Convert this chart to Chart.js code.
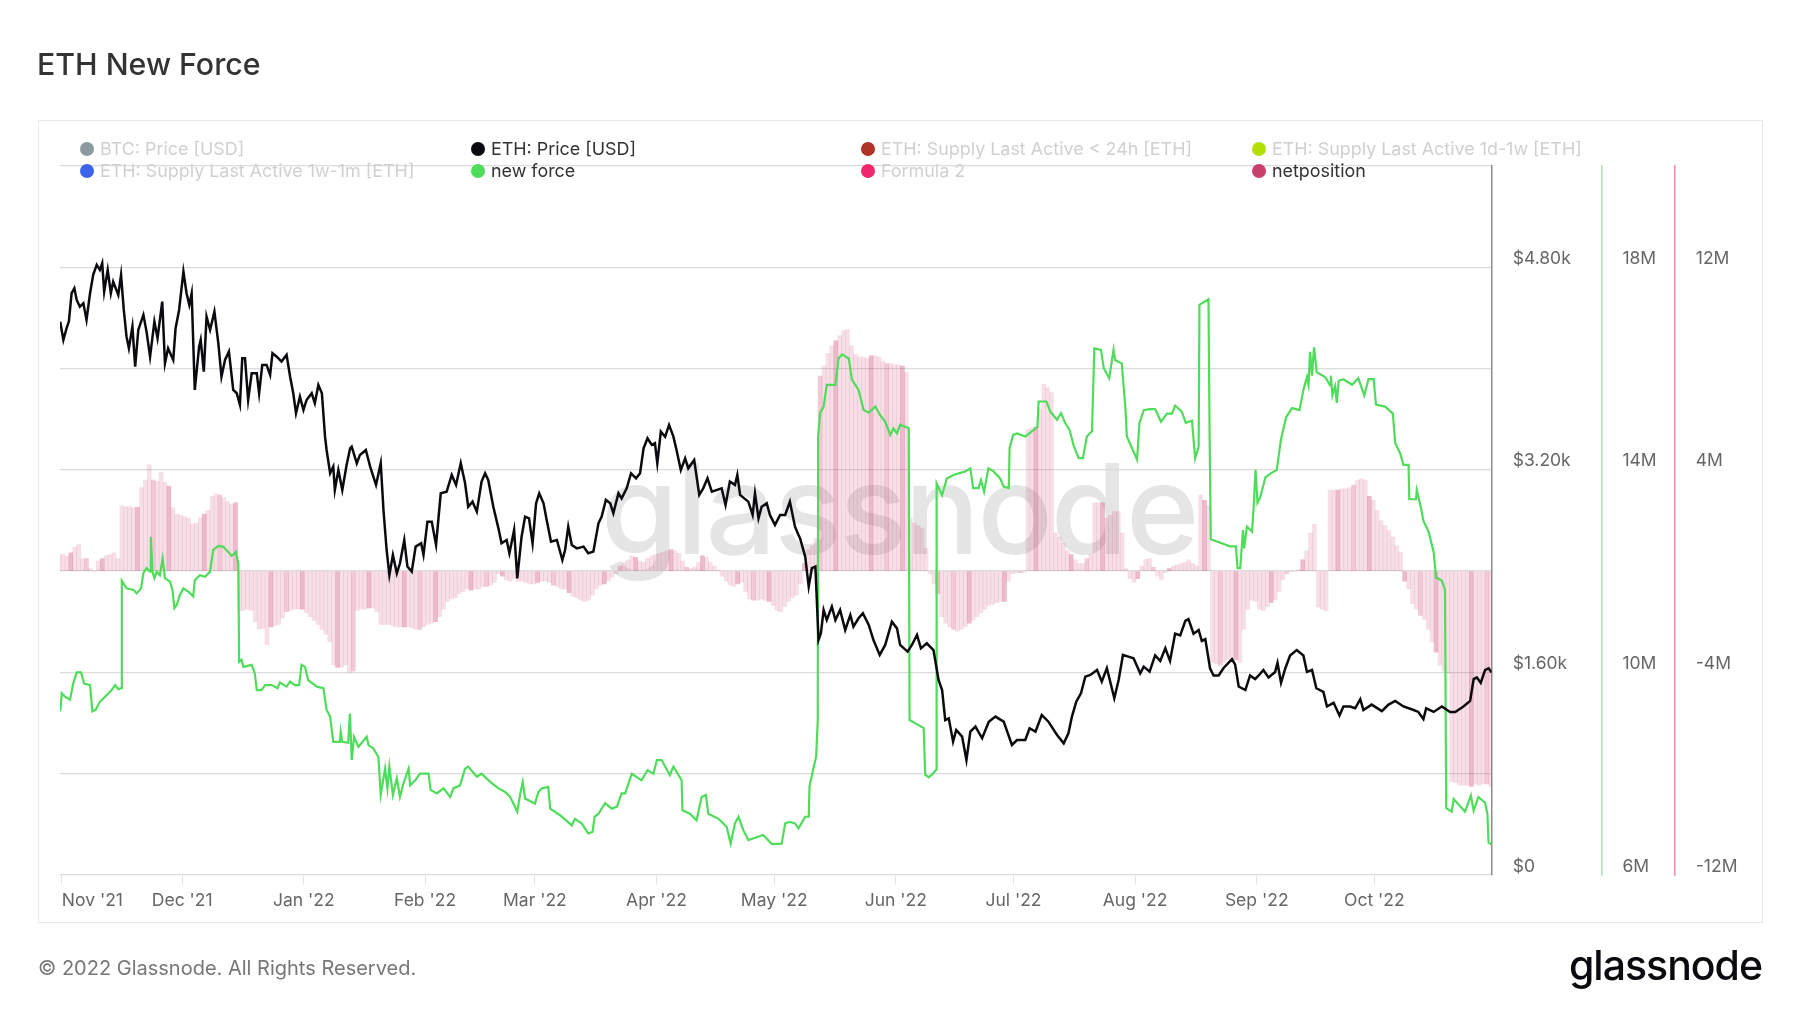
<!DOCTYPE html>
<html>
<head>
<meta charset="utf-8">
<title>ETH New Force</title>
<script src="https://cdn.jsdelivr.net/npm/chart.js@4"></script>
<style>
  html, body { margin: 0; padding: 0; background: #fff; }
  body { width: 1800px; height: 1013px; position: relative; overflow: hidden; font-family: Inter, sans-serif; }
  #title { position: absolute; left: 37px; top: 44px; font-size: 30.3px; font-weight: 500; color: #333; line-height: 40px; }
  #panel { position: absolute; left: 38px; top: 120px; width: 1723px; height: 801px; border: 1.5px solid #e9e9e9; }
  #mark { position: absolute; left: 601px; top: 434px; font-size: 125px; font-weight: 500; line-height: 150px; letter-spacing: -2.2px; color: #e5e5e5; }
  #chartbox { position: absolute; left: 0; top: 0; width: 1800px; height: 1013px; }
  .lg { position: absolute; font-size: 17.9px; line-height: 22px; white-space: nowrap; color: #d0d0d0; }
  .lg.on { color: #333; }
  .lg i { position: absolute; left: -20px; top: 4px; width: 14px; height: 14px; border-radius: 50%; }
  #copy { position: absolute; left: 38px; top: 954px; font-size: 20px; line-height: 28px; color: #777; }
  #logo { position: absolute; right: 38px; top: 935px; font-size: 41px; line-height: 60px; font-weight: 500; letter-spacing: -1px; color: #0b0b0f; }
</style>
</head>
<body>
<div id="panel"></div>
<div id="mark">glassnode</div>
<div id="chartbox"><canvas id="chart" width="1800" height="1013"></canvas></div>
<div id="title">ETH New Force</div>
<div id="legend"></div>
<div id="copy">© 2022 Glassnode. All Rights Reserved.</div>
<div id="logo">glassnode</div>
<script>
// x values are days counted from 1 Nov 2021
const monthDays = [-0.3, 30.4, 61.4, 92.3, 120.3, 151.3, 181.3, 212.3, 242.3, 273.3, 304.3, 334.3];
const monthLabels = ["Nov '21", "Dec '21", "Jan '22", "Feb '22", "Mar '22", "Apr '22", "May '22", "Jun '22", "Jul '22", "Aug '22", "Sep '22", "Oct '22"];
const priceTickLabels = ["$0", "$1.60k", "$3.20k", "$4.80k"];
const forceTickLabels = ["6M", "10M", "14M", "18M"];
const netTickLabels = ["-12M", "-4M", "4M", "12M"];
const legendNames = ["BTC: Price [USD]", "ETH: Price [USD]", "ETH: Supply Last Active < 24h [ETH]", "ETH: Supply Last Active 1d-1w [ETH]", "ETH: Supply Last Active 1w-1m [ETH]", "new force", "Formula 2", "netposition"];
const legendColors = ["#8a9a9e", "#0b0b0f", "#b03328", "#b2e000", "#3d63ea", "#4fdc5a", "#f2286e", "#c93f6b"];
const legendOn = [false, true, false, false, false, true, false, true];

const ethDays = [
  -0.7,0.1,0.9,1.5,2.2,2.9,3.5,4.3,5.2,6.0,6.9,7.7,8.6,9.4,10.0,10.5,11.4,12.2,12.8,14.1,14.8,15.5,16.2,16.8,17.7,18.4,19.2,20.5,21.3,22.2,
  23.3,24.1,25.3,26.0,26.8,28.1,28.7,29.6,30.7,31.5,32.2,32.8,33.6,34.7,35.1,35.9,36.6,37.5,38.6,39.6,40.4,41.3,42.3,43.4,44.3,45.1,45.7,46.4,47.2,48.1,
  49.4,50.0,50.8,51.9,52.8,53.4,54.5,55.7,57.0,57.9,58.7,59.4,60.4,61.3,62.1,63.4,64.2,65.1,66.0,66.8,67.2,68.1,68.9,69.3,70.2,71.2,72.3,73.2,
  73.6,74.9,75.7,77.2,78.3,79.8,81.0,81.7,82.5,83.2,84.1,85.1,85.9,87.0,87.8,88.9,89.9,91.3,91.9,92.9,94.0,95.1,96.3,97.8,99.1,100.2,101.4,102.5,103.3,104.4,105.5,
  106.7,107.6,108.4,109.7,111.0,111.8,113.1,113.8,115.0,115.8,116.9,117.8,118.8,119.7,120.6,121.4,122.5,123.3,124.4,125.9,127.3,128.0,128.8,129.7,131.0,132.7,133.9,135.2,
  136.5,137.3,138.4,139.5,140.3,141.6,142.4,143.7,144.8,146.1,147.1,148.0,149.0,150.1,150.9,151.5,152.4,153.5,154.5,155.6,156.4,157.5,158.6,159.4,160.9,162.2,163.2,164.3,165.4,
  167.9,168.9,170.0,171.3,171.9,172.6,174.7,175.8,176.4,177.3,178.1,179.4,180.2,181.5,182.8,184.1,185.3,186.6,187.5,
  187.9,189.2,190.1,190.9,191.8,192.6,193.2,193.9,194.7,196.0,196.9,198.1,199.4,200.7,201.5,202.8,203.9,205.4,206.6,208.2,209.6,211.3,212.6,213.4,215.3,216.4,217.7,218.7,220.2,221.9,
  223.2,224.1,224.9,225.8,226.9,227.7,229.2,230.3,231.3,232.6,234.3,236.0,237.7,239.8,241.9,243.2,245.3,246.4,247.9,249.5,251.2,253.4,255.1,256.3,257.2,258.3,259.5,260.6,261.9,263.6,
  264.8,266.1,268.0,269.1,270.2,271.6,272.9,274.6,275.5,277.0,
  278.4,279.7,281.0,282.2,283.5,284.8,286.1,286.9,288.2,289.5,290.3,291.2,292.4,293.3,294.6,295.8,297.1,298.0,298.8,299.7,301.4,302.6,303.9,304.8,306.0,307.3,309.0,309.6,310.5,311.6,
  312.8,314.5,316.2,317.1,318.4,319.5,321.3,322.2,323.9,325.4,326.4,328.1,329.4,330.7,331.5,333.6,336.2,337.9,339.6,341.7,344.3,345.5,346.8,347.5,349.4,351.5,353.6,354.9,357.0,358.7,
  359.6,360.4,361.4,362.5,363.4,364.2
];
const ethPrice = [
  4371,4226,4318,4371,4595,4634,4542,4489,4516,4384,4595,4740,4819,4779,4832,4608,4779,4595,4687,4582,4740,4463,4252,4160,4331,4015,4305,4424,4292,4094,
  4371,4239,4529,4042,4160,4068,4318,4463,4766,4595,4503,4595,3831,4173,4226,3976,4410,4305,4450,4200,3936,4068,4134,3831,3805,3713,4081,4081,3752,3963,
  3963,3805,4029,4029,3950,4121,4094,4055,4108,3936,3805,3647,3778,3673,3752,3805,3726,3871,3805,3462,3357,3173,3226,3041,3199,3041,3239,3370,
  3383,3252,3318,3357,3226,3081,3252,2883,2567,2370,2528,2383,2462,2646,2436,2396,2594,2620,2528,2791,2791,2607,3015,3028,3160,3081,3252,3094,2909,2949,2870,
  3107,3173,3120,2909,2738,2620,2646,2541,2725,2343,2672,2830,2817,2620,2936,3015,2936,2804,2633,2646,2488,2567,2751,2607,2580,2594,2541,2554,
  2778,2830,2962,2936,2857,3015,2975,3054,3173,3133,3173,3370,3449,3397,3410,3252,3502,3462,3555,3462,3357,3199,3291,3212,3278,3002,3054,3133,3028,
  3054,2923,3107,3081,3160,3002,2949,2844,3015,2817,2909,2936,2844,2765,2844,2844,2949,2751,2686,
  2659,2515,2278,2423,2436,1856,1909,2093,2014,2120,2014,2093,1935,2054,1962,2028,2067,1975,1856,1738,1817,2001,1948,1817,1764,1817,1896,1790,1830,1777,
  1540,1461,1224,1238,1053,1145,1093,908,1132,1172,1080,1211,1251,1211,1027,1066,1066,1159,1132,1264,1211,1106,1040,1119,1251,1369,1435,1567,1580,1619,
  1527,1633,1396,1540,1738,1725,1712,1593,1646,1606,
  1734,1691,1791,1691,1906,1892,2007,2021,1906,1935,1849,1863,1633,1576,1576,1633,1676,1705,1662,1489,1461,1576,1547,1576,1619,1561,1604,1676,1518,1633,
  1734,1777,1734,1604,1619,1475,1446,1331,1360,1260,1331,1331,1317,1389,1303,1346,1294,1346,1375,1331,1303,1288,1231,1317,1288,1331,1288,1288,1331,1375,
  1547,1561,1518,1619,1633,1599
];

const forceDays = [
  -0.7,-0.3,0.5,1.8,2.6,3.5,4.6,5.4,6.9,7.5,8.3,9.4,11.1,12.4,13.3,14.1,14.8,15.0,16.2,18.0,18.8,19.9,20.5,21.3,22.2,22.4,22.8,23.3,23.9,24.7,
  25.4,26.0,27.3,27.9,28.4,29.0,29.8,30.7,32.0,33.2,33.6,34.9,36.2,37.5,38.3,39.6,40.9,42.1,43.0,44.1,44.7,44.9,45.5,46.0,48.1,48.9,49.4,50.6,51.5,53.2,
  54.7,55.3,57.0,57.9,59.1,60.2,60.8,61.7,62.5,64.7,66.4,67.2,68.1,68.9,70.6,70.8,71.2,72.7,73.15,
  73.6,74.2,75.3,77.4,77.9,79.1,80.4,81.0,82.1,82.7,83.2,84.1,85.1,85.9,86.8,88.1,88.5,89.8,91.0,93.2,93.7,95.3,97.0,98.7,99.5,101.2,102.5,103.3,105.5,106.7,
  108.9,111.0,112.7,114.0,115.8,116.5,117.2,117.8,120.3,121.2,122.0,123.7,124.2,126.7,129.7,130.5,132.2,133.9,135.0,135.5,136.5,138.2,139.9,141.2,142.4,143.3,145.0,147.5,149.0,150.5,
  151.4,152.6,154.7,155.6,157.7,157.9,159.8,161.5,162.8,163.9,164.5,167.1,169.2,170.2,171.3,172.2,173.4,174.7,178.5,180.7,183.2,184.1,185.3,186.6,187.5,
  189.2,190.1,190.3,191.3,192.0,192.4,192.5,193.0,193.9,194.7,196.9,197.7,198.6,200.3,201.1,202.8,204.1,205.4,207.1,208.3,209.6,210.9,211.7,212.6,213.4,215.6,215.8,218.1,219.4,219.8,
  220.7,221.9,222.6,222.7,224.1,225.3,227.0,230.0,231.3,232.0,233.4,234.0,234.8,235.9,237.2,238.9,239.8,241.1,241.3,242.2,243.2,245.3,247.0,248.4,248.7,250.7,251.7,253.4,254.4,255.5,
  256.6,257.6,258.9,260.0,261.0,262.3,262.9,264.6,265.3,266.7,267.8,268.2,269.9,270.8,271.2,273.8,274.4,275.5,277.0,
  278.4,279.9,281.4,282.7,283.5,285.2,286.2,287.8,288.6,289.5,289.7,292.0,292.3,292.6,295.0,297.5,299.0,299.4,300.1,300.8,301.1,301.8,303.1,303.5,304.0,304.5,305.2,306.5,307.7,309.4,
  310.5,311.8,313.3,315.2,316.2,317.1,317.5,317.9,318.4,318.9,319.6,321.8,323.0,323.2,323.6,324.3,324.7,325.2,326.4,328.6,330.2,331.7,332.8,334.1,334.7,337.0,339.0,339.6,340.9,341.7,
  343.0,343.2,344.9,345.1,346.0,346.8,348.1,349.4,350.0,351.5,352.3,352.6,354.0,354.5,357.4,358.9,359.6,360.8,362.5,363.1,363.4,364.2
];
// millions of ETH
const forceValues = [
  9.23,9.59,9.52,9.46,9.78,10.0,10.0,9.78,9.75,9.23,9.26,9.42,9.55,9.65,9.75,9.67,9.69,11.81,11.66,11.63,11.56,11.66,11.96,12.06,11.99,12.68,11.99,11.86,11.99,11.92,
  12.25,11.86,11.79,11.63,11.27,11.33,11.53,11.66,11.59,11.50,11.82,11.92,11.89,11.99,12.42,12.50,12.48,12.38,12.30,12.38,12.15,10.21,10.25,10.11,10.15,9.98,9.65,9.65,9.75,9.75,
  9.69,9.80,9.72,9.82,9.75,9.75,10.15,10.11,9.85,9.72,9.69,9.26,9.13,8.63,8.63,8.83,8.63,8.61,9.19,
  8.27,8.73,8.53,8.73,8.56,8.50,8.33,7.58,8.10,7.71,8.14,7.58,7.91,7.54,7.81,8.10,7.77,7.87,8.00,8.00,7.68,7.61,7.71,7.54,7.71,7.77,8.10,8.14,7.94,8.00,
  7.84,7.71,7.64,7.54,7.25,7.58,7.84,7.51,7.41,7.64,7.71,7.74,7.31,7.18,6.98,7.11,7.02,6.82,6.85,7.15,7.21,7.42,7.31,7.35,7.61,7.61,8.00,7.87,8.07,8.00,
  8.27,8.27,7.97,8.14,7.87,7.28,7.21,7.08,7.54,7.58,7.21,7.11,6.95,6.62,7.02,7.15,6.89,6.69,6.79,6.61,6.62,7.02,7.05,7.02,6.92,
  7.15,7.15,7.75,8.11,8.34,9.06,14.66,15.12,15.25,15.68,15.68,16.20,16.28,16.20,15.78,15.58,15.18,15.13,15.25,15.08,14.95,14.69,14.82,14.72,14.89,14.82,9.06,8.96,8.90,7.98,
  7.93,8.01,8.08,13.73,13.50,13.83,13.90,13.97,14.03,13.64,13.64,13.80,13.57,14.03,13.97,13.83,13.67,13.64,14.43,14.69,14.72,14.66,14.76,14.85,15.35,15.35,15.15,14.99,15.12,14.92,
  14.79,14.49,14.23,14.23,14.66,14.76,16.40,16.37,16.01,15.81,16.37,16.17,16.10,15.25,14.66,14.20,14.92,15.18,15.20,
  15.20,14.95,15.11,15.11,15.27,15.15,14.93,14.97,14.23,14.46,17.26,17.37,14.61,12.63,12.56,12.49,12.49,12.06,12.06,12.81,12.45,12.88,12.78,13.24,14.0,13.35,13.46,13.85,13.92,14.0,
  14.61,15.04,15.22,15.18,15.58,15.83,15.68,16.33,15.86,16.42,15.93,15.83,15.67,15.86,15.47,15.65,15.32,15.76,15.79,15.68,15.81,15.47,15.79,15.79,15.29,15.25,15.11,14.53,14.32,14.10,
  14.10,13.42,13.42,13.60,13.31,12.99,12.78,12.38,11.88,11.81,11.63,7.32,7.25,7.50,7.25,7.57,7.27,7.54,7.43,7.21,6.64,6.60
];

// millions, one value per day starting at day -1
const netValues = [
  .62,.66,.58,.72,.95,1.05,.5,.5,.1,0,.4,.5,.6,.65,.72,.5,
  2.58,2.55,2.55,2.5,2.52,3.3,3.6,4.2,3.6,3.55,3.9,3.5,3.35,2.5,2.25,2.2,2.15,2.1,1.85,1.9,2.1,2.25,2.4,2.95,3.05,3.0,2.9,2.75,2.65,2.7,
  -1.55,-1.55,-1.5,-1.55,-2.0,-2.3,-2.25,-2.9,-2.2,-2.15,-2.1,-1.85,-1.6,-1.55,-1.5,-1.5,-1.5,-1.65,-1.8,-1.95,-2.1,-2.3,-2.5,-2.8,-3.7,-3.8,-3.8,-3.7,-4.0,-3.95,
  -1.55,-1.5,-1.5,-1.45,-1.45,-1.6,-2.1,-2.1,-2.1,-2.15,-2.2,-2.2,-2.2,-2.2,-2.25,-2.3,-2.3,-2.2,-2.1,-2.05,-2.0,-1.8,-1.5,-1.2,-1.1,-1.05,-.9,-.8,-.7,-.75,-.7,-.7,-.6,-.6,-.55,-.45,
  -.1,-.2,-.35,-.4,-.3,-.4,-.4,-.45,-.5,-.5,-.45,-.4,-.4,-.45,-.55,-.6,-.7,-.7,-.85,-1.0,-1.05,-1.15,-1.2,-1.15,-.95,-.7,-.55,-.5,-.4,-.25,-.1,
  .2,.35,.45,.6,.55,.4,.35,.5,.6,.65,.7,.75,.8,.85,.8,.7,.4,.15,.1,.15,.35,.6,.55,.35,.2,.05,
  -.2,-.4,-.55,-.6,-.5,-.45,-.8,-1.1,-1.15,-1.15,-1.1,-1.15,-1.2,-1.35,-1.55,-1.6,-1.4,-1.2,-1.05,-.95,-.5,
  .3,.85,1.0,1.3,7.7,8.1,8.6,8.9,9.1,9.3,9.5,9.55,8.9,8.55,8.45,8.45,8.4,8.5,8.5,8.45,8.3,8.2,8.2,8.15,8.15,8.1,7.85,2.1,1.9,1.8,1.7,.9,
  -.1,-.5,-.9,-1.8,-2.05,-2.2,-2.3,-2.37,-2.3,-2.2,-2.05,-1.95,-1.8,-1.65,-1.5,-1.35,-1.3,-1.25,-1.2,-1.2,-.4,-.1,-.07,-.06,-.05,
  5.6,5.65,5.7,6.4,7.38,7.25,7.05,1.5,1.35,1.1,.8,.65,.45,.3,.3,.5,.65,2.7,2.7,2.7,2.1,2.2,2.35,2.35,1.5,.1,-.3,-.46,-.3,.2,.46,.5,
  .15,-.2,-.35,-.05,.1,.2,.25,.3,.35,.45,.3,.2,3.0,2.8,2.6,
  -3.6,-3.65,-3.7,-3.6,-3.5,-3.4,-3.5,-3.6,-2.3,-1.5,-1.15,-1.2,-1.5,-1.55,-1.4,-1.25,-1.13,-.8,-.35,-.1,0,0,.05,.45,.8,1.5,1.85,
  -1.42,-1.5,-1.57,3.2,3.2,3.2,3.25,3.25,3.3,3.4,3.6,3.65,3.6,2.95,2.8,2.4,2.0,1.8,1.6,1.35,1.0,.75,
  -.4,-.7,-1.28,-1.5,-1.75,-1.9,-2.3,-2.8,-3.2,-3.7,-3.95,-4.05,-8.3,-8.35,-8.45,-8.45,-8.45,-8.5,-8.4,-8.45,-8.4,-8.4,-8.5,-9.0
];

// legend is laid out in four fixed columns, two rows
const legendCols = [100, 491, 881, 1272];
const legendRows = [138, 160];
var legendBox = document.getElementById("legend");
legendNames.forEach(function(name, i){
  var el = document.createElement("div");
  el.className = "lg" + (legendOn[i] ? " on" : "");
  el.style.left = legendCols[i % 4] + "px";
  el.style.top = legendRows[Math.floor(i / 4)] + "px";
  el.textContent = name;
  var dot = document.createElement("i");
  dot.style.background = legendColors[i];
  el.appendChild(dot);
  legendBox.appendChild(el);
});

function pairs(xs, ys){
  return ys.map(function(y, i){ return {x: xs[i], y: y}; });
}

var tickFont = {family: "Inter", size: 17.5};
var tickColor = "#666";

// every second grid step carries a label
function everyOther(labels){
  return function(value, index){
    return index % 2 === 0 ? (labels[index / 2] || "") : "";
  };
}

// the reference bars overlap unevenly, which leaves darker streaks
function netColor(c){
  var n = c.dataIndex % 17;
  if (n === 3 || n === 11) return "rgba(203,63,109,0.36)";
  if (n === 7) return "rgba(203,63,109,0.28)";
  return "rgba(203,63,109,0.17)";
}

new Chart("chart", {
  data: {
    datasets: [
      {type: "line", label: "ETH: Price [USD]", yAxisID: "yPrice", order: 1, data: pairs(ethDays, ethPrice),
        borderColor: "#0b0b0f", borderWidth: 2.5, pointRadius: 0, tension: 0},
      {type: "line", label: "new force", yAxisID: "yForce", order: 2, data: pairs(forceDays, forceValues),
        borderColor: "#4fdc5a", borderWidth: 2.2, pointRadius: 0, tension: 0},
      {type: "bar", label: "netposition", yAxisID: "yNet", order: 3, data: netValues.map(function(v, i){ return {x: i - 1, y: v}; }),
        backgroundColor: netColor, barThickness: 3.93, grouped: false}
    ]
  },
  options: {
    responsive: false,
    animation: false,
    events: [],
    layout: {padding: {left: 60, top: 166, right: 0, bottom: 0}},
    plugins: {legend: {display: false}, tooltip: {enabled: false}},
    scales: {
      x: {
        type: "linear", min: -0.76, max: 364.2, position: "bottom", offset: false,
        afterFit: function(s){ s.height = 138; },
        afterBuildTicks: function(s){
          s.ticks = monthDays.map(function(d){ return {value: d}; });
          s.ticks.push({value: 364.2});
        },
        grid: {offset: false, drawOnChartArea: false, drawTicks: true, tickLength: 10,
          tickColor: function(c){ return c.index === monthDays.length ? "rgba(0,0,0,0)" : "#e6e6e6"; }},
        border: {display: false},
        ticks: {
          font: tickFont, color: tickColor, padding: 5, maxRotation: 0, autoSkip: false, align: "inner",
          callback: function(value, index){ return monthLabels[index] || ""; }
        }
      },
      yPrice: {
        type: "linear", position: "right", weight: 1, min: 0, max: 5600,
        afterFit: function(s){ s.width = 109.7; },
        grid: {color: "#dcdcdc", lineWidth: 1.3, drawTicks: false},
        border: {display: true, color: "#8c8c8c", width: 1.5},
        ticks: {stepSize: 800, autoSkip: false, font: tickFont, color: tickColor, padding: 21, align: "end",
          callback: everyOther(priceTickLabels)}
      },
      yForce: {
        type: "linear", position: "right", weight: 2, min: 6, max: 20,
        afterFit: function(s){ s.width = 73.4; },
        grid: {drawOnChartArea: false, drawTicks: false},
        border: {display: true, color: "#a6e8ac", width: 1.5},
        ticks: {stepSize: 2, autoSkip: false, font: tickFont, color: tickColor, padding: 21, align: "end",
          callback: everyOther(forceTickLabels)}
      },
      yNet: {
        type: "linear", position: "right", weight: 3, min: -12, max: 16,
        afterFit: function(s){ s.width = 125.2; },
        grid: {drawOnChartArea: false, drawTicks: false},
        border: {display: true, color: "#f08aa8", width: 1.5},
        ticks: {stepSize: 4, autoSkip: false, font: tickFont, color: tickColor, padding: 21, align: "end",
          callback: everyOther(netTickLabels)}
      }
    }
  }
});
</script>
</body>
</html>
